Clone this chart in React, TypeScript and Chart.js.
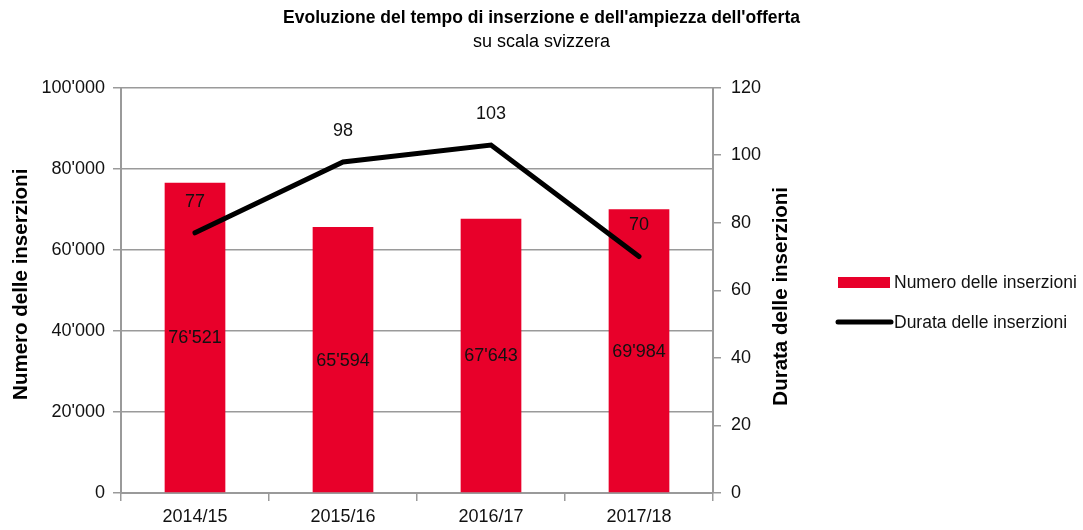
import React, { useEffect, useRef } from 'react';
import { Chart, registerables } from 'chart.js';

Chart.register(...registerables);

const categories = ['2014/15', '2015/16', '2016/17', '2017/18'];
const numeroInserzioni = [76521, 65594, 67643, 69984];
const durataInserzioni = [77, 98, 103, 70];
const titleText = "Evoluzione del tempo di inserzione e dell'ampiezza dell'offerta";
const subtitleText = 'su scala svizzera';
const leftAxisTitle = 'Numero delle inserzioni';
const rightAxisTitle = 'Durata delle inserzioni';
const legendLabels = ['Numero delle inserzioni', 'Durata delle inserzioni'];

const FONT = '"Liberation Sans", Arial, sans-serif';
const RED = '#E8002A';
const GRID = '#9a9a9a';
const TEXT = '#111111';

const fmt = (n: number) => String(n).replace(/\B(?=(\d{3})+(?!\d))/g, "'");

export default function App() {
  const ref = useRef<HTMLCanvasElement>(null);

  useEffect(() => {
    document.body.style.margin = '0';
    const canvas = ref.current;
    if (!canvas) return;

    const extras = {
      id: 'extras',
      afterDatasetsDraw(chart: any) {
        const ctx = chart.ctx;
        ctx.save();
        ctx.fillStyle = TEXT;
        ctx.font = `18px ${FONT}`;
        ctx.textAlign = 'center';
        ctx.textBaseline = 'middle';
        const barMeta = chart.getDatasetMeta(0);
        barMeta.data.forEach((el: any, i: number) => {
          const p = el.getProps(['x', 'y', 'base'], true);
          ctx.fillText(fmt(numeroInserzioni[i]), p.x, (p.y + p.base) / 2 + 1);
        });
        const lineMeta = chart.getDatasetMeta(1);
        lineMeta.data.forEach((el: any, i: number) => {
          ctx.fillText(String(durataInserzioni[i]), el.x, el.y - 31);
        });
        ctx.restore();
      },
      afterDraw(chart: any) {
        const ctx = chart.ctx;
        const ca = chart.chartArea;
        const cy = (ca.top + ca.bottom) / 2;
        // axis titles
        ctx.save();
        ctx.font = `bold 20.5px ${FONT}`;
        ctx.fillStyle = '#000';
        ctx.textAlign = 'center';
        ctx.textBaseline = 'middle';
        ctx.translate(21, cy - 6);
        ctx.rotate(-Math.PI / 2);
        ctx.fillText(leftAxisTitle, 0, 0);
        ctx.restore();

        ctx.save();
        ctx.font = `bold 20.5px ${FONT}`;
        ctx.fillStyle = '#000';
        ctx.textAlign = 'center';
        ctx.textBaseline = 'middle';
        ctx.translate(ca.right + 68, cy + 6);
        ctx.rotate(-Math.PI / 2);
        ctx.fillText(rightAxisTitle, 0, 0);
        ctx.restore();

        // legend
        ctx.save();
        const lx = ca.right + 125;
        ctx.fillStyle = RED;
        ctx.fillRect(lx, 277, 52, 11);
        ctx.strokeStyle = '#000';
        ctx.lineWidth = 5;
        ctx.lineCap = 'round';
        ctx.beginPath();
        ctx.moveTo(lx, 322);
        ctx.lineTo(lx + 53, 322);
        ctx.stroke();
        ctx.fillStyle = TEXT;
        ctx.font = `17.5px ${FONT}`;
        ctx.textAlign = 'left';
        ctx.textBaseline = 'middle';
        ctx.fillText(legendLabels[0], lx + 56, 283);
        ctx.fillText(legendLabels[1], lx + 56, 323);
        ctx.restore();
      },
    };

    const chart = new Chart(canvas, {
      type: 'bar',
      data: {
        labels: categories,
        datasets: [
          {
            type: 'bar',
            label: legendLabels[0],
            data: numeroInserzioni,
            backgroundColor: RED,
            yAxisID: 'y',
            order: 2,
            barPercentage: 0.41,
            categoryPercentage: 1,
          },
          {
            type: 'line',
            label: legendLabels[1],
            data: durataInserzioni,
            borderColor: '#000',
            backgroundColor: '#000',
            borderWidth: 5,
            pointRadius: 0,
            borderCapStyle: 'round',
            borderJoinStyle: 'miter',
            yAxisID: 'y1',
            order: 1,
          },
        ],
      } as any,
      options: {
        responsive: false,
        animation: false,
        layout: { padding: 0 },
        plugins: {
          legend: { display: false },
          tooltip: { enabled: false },
          title: {
            display: true,
            text: titleText,
            color: '#000',
            font: { family: FONT, size: 17.5, weight: 'bold' },
            padding: { top: 8, bottom: 0 },
          },
          subtitle: {
            display: true,
            text: subtitleText,
            color: '#000',
            font: { family: FONT, size: 18 },
            padding: { top: 2, bottom: 35 },
          },
        },
        scales: {
          x: {
            grid: { drawOnChartArea: false, offset: true, color: GRID, lineWidth: 1.5, tickLength: 8 },
            border: { color: GRID, width: 2 },
            ticks: { color: TEXT, font: { family: FONT, size: 18 }, padding: 5 },
            afterFit(s: any) { s.height = 37; },
          },
          y: {
            position: 'left',
            min: 0,
            max: 100000,
            ticks: { stepSize: 20000, color: TEXT, font: { family: FONT, size: 18 }, padding: 8, callback: (v: any) => fmt(Number(v)) },
            grid: { color: GRID, lineWidth: 1.5, tickLength: 8 },
            border: { color: GRID, width: 2 },
            afterFit(s: any) { s.width = 121; },
          },
          y1: {
            position: 'right',
            min: 0,
            max: 120,
            ticks: { stepSize: 20, color: TEXT, font: { family: FONT, size: 18 }, padding: 10 },
            grid: { drawOnChartArea: false, color: GRID, lineWidth: 1.5, tickLength: 8 },
            border: { color: GRID, width: 2 },
            afterFit(s: any) { s.width = 370; },
          },
        },
      } as any,
      plugins: [extras],
    });

    return () => chart.destroy();
  }, []);

  return (
    <div style={{ width: 1083, height: 530 }}>
      <canvas ref={ref} width={1083} height={530} />
    </div>
  );
}
